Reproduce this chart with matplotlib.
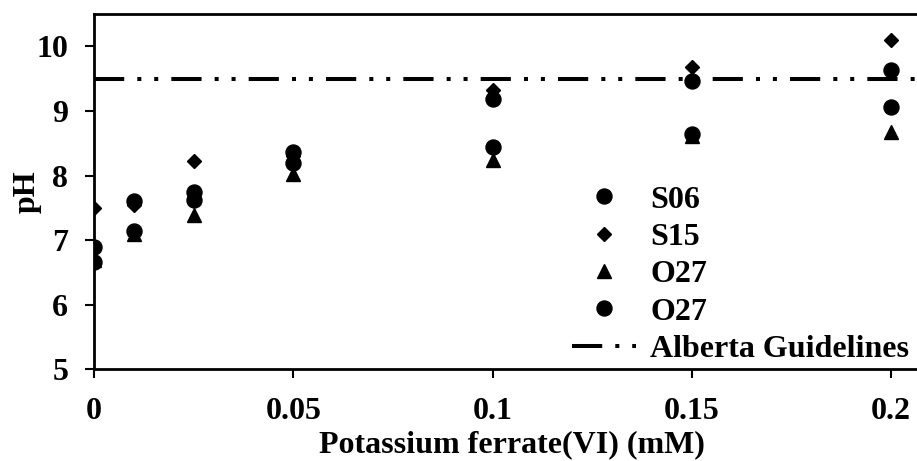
import matplotlib
matplotlib.use("Agg")
import matplotlib.pyplot as plt
from matplotlib.ticker import FixedLocator

plt.rcParams['font.family'] = ['Liberation Serif', 'DejaVu Serif']
plt.rcParams['font.weight'] = 'bold'

dose = [0, 0.01, 0.025, 0.05, 0.1, 0.15, 0.2]
s06 = [6.9, 7.6, 7.75, 8.37, 9.19, 9.47, 9.63]
s15 = [7.5, 7.55, 8.22, 8.3, 9.32, 9.68, 10.1]
o27_tri = [6.7, 7.1, 7.39, 8.03, 8.24, 8.62, 8.68]
o27_circ = [6.67, 7.15, 7.62, 8.19, 8.44, 8.65, 9.06]
guideline = 9.5
xticks = [0, 0.05, 0.1, 0.15, 0.2]
xticklabels = ['0', '0.05', '0.1', '0.15', '0.2']
yticks = [5, 6, 7, 8, 9, 10]

FS = 23
fig = plt.figure(figsize=(9.17, 4.61), dpi=100)
ax = fig.add_axes([0.1025, 0.1985, 0.9106, 0.771])

ax.plot(dose, s06, ls='none', marker='o', ms=10.8, color='black', label='S06')
ax.plot(dose, s15, ls='none', marker='D', ms=7, color='black', label='S15')
ax.plot(dose, o27_tri, ls='none', marker='^', ms=10.5, color='black', label='O27')
ax.plot(dose, o27_circ, ls='none', marker='o', ms=10.8, color='black', label='O27')
ax.axhline(guideline, color='black', lw=2.9, dash_capstyle='butt',
           ls=(0, (7.5, 3.25, 1, 3.2, 1, 3.25)), label='Alberta Guidelines', zorder=1)

ax.set_xlim(0, 0.2095)
ax.set_ylim(5, 10.5)
ax.xaxis.set_major_locator(FixedLocator(xticks))
ax.set_xticklabels(xticklabels)
ax.yaxis.set_major_locator(FixedLocator(yticks))
ax.tick_params(direction='out', length=6.5, width=1.5, labelsize=FS)
ax.tick_params(axis='x', pad=13)
ax.tick_params(axis='y', pad=12)
for s in ['left', 'bottom', 'top', 'right']:
    ax.spines[s].set_linewidth(2)

ax.set_xlabel('Potassium ferrate(VI) (mM)', fontsize=FS, fontweight='bold')
ax.xaxis.set_label_coords(0.5, -0.170)
ax.set_ylabel('pH', fontsize=FS, fontweight='bold')
ax.yaxis.set_label_coords(-0.080, 0.5)
ax.yaxis.label.set_verticalalignment('center')

leg = ax.legend(loc='lower right', bbox_to_anchor=(909 / 917, 1 - 364 / 461),
                bbox_transform=fig.transFigure, frameon=False,
                handlelength=2.0, handletextpad=0.45, labelspacing=0.25,
                borderaxespad=0, borderpad=0, prop={'weight': 'bold', 'size': FS})
fig.savefig('out.png', dpi=100)
